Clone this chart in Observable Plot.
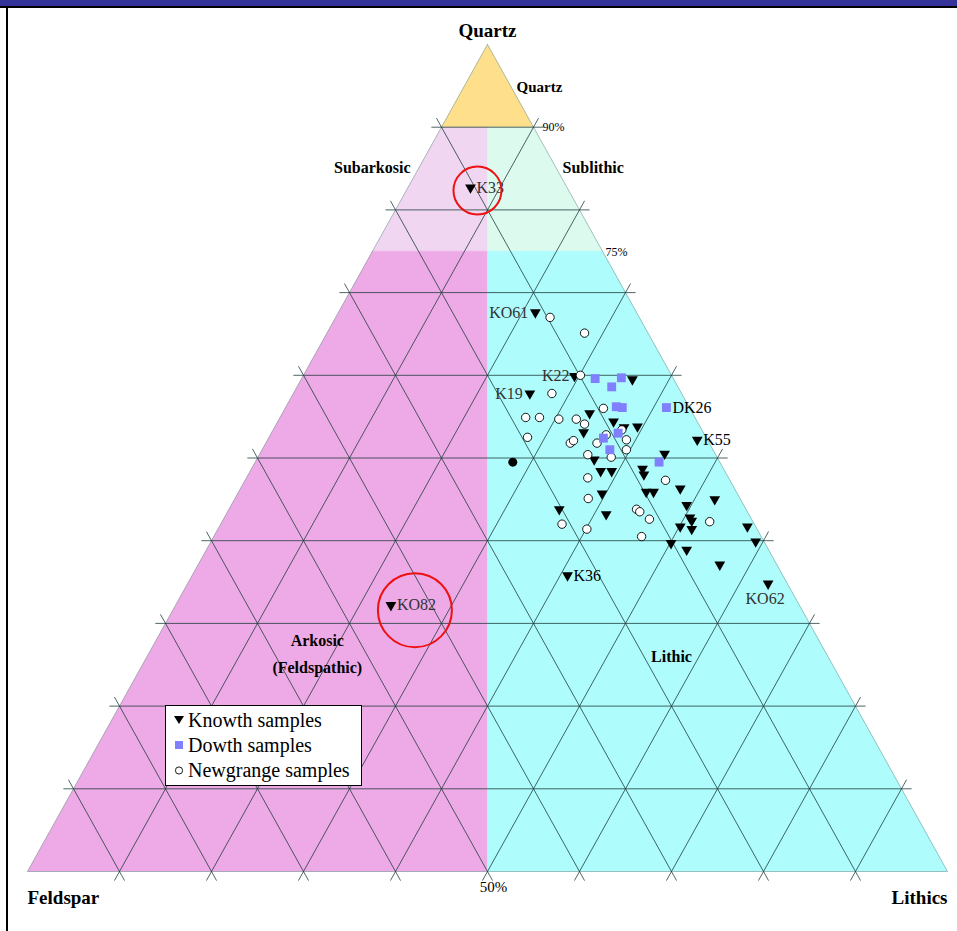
<!DOCTYPE html>
<html><head><meta charset="utf-8">
<script src="https://cdn.jsdelivr.net/npm/d3@7"></script>
<script src="https://cdn.jsdelivr.net/npm/@observablehq/plot@0.6"></script>
<style>
html,body{margin:0;padding:0;background:#fff;}
#wrap{position:relative;width:957px;height:931px;overflow:hidden;font-family:"Liberation Serif","Times New Roman",serif;}
#chart{position:absolute;left:0;top:0;}
.topband{position:absolute;left:0;top:0;width:957px;height:6px;background:#333399;}
.topline{position:absolute;left:0;top:6px;width:957px;height:2px;background:#000;}
.leftline{position:absolute;left:6px;top:6px;width:2px;height:925px;background:#000;}
#legend{position:absolute;left:165px;top:705px;width:195px;height:79px;border:1px solid #000;background:#fff;}
.row{position:absolute;left:7px;height:24px;display:flex;align-items:center;font-family:"Liberation Serif","Times New Roman",serif;font-size:20px;color:#000;white-space:nowrap;}
.row svg{margin-right:3px;}
</style></head><body>
<div id="wrap"><div id="chart"></div>
<div class="topband"></div><div class="topline"></div><div class="leftline"></div>
<div id="legend"></div></div>
<script>
// ---- data: [name, Quartz %, Feldspar %, Lithics %] ----
const knowth = [
  ["K33",82.7,10.5,6.8], ["KO82",32.2,44.4,23.4], ["KO61",67.6,11.0,21.4], ["K22",59.9,10.6,29.5],
  ["",59.5,4.5,36.0], ["K19",57.8,16.5,25.7], ["",55.4,11.2,33.4], ["",54.4,9.1,36.5],
  ["",53.8,6.8,39.4], ["",53.7,8.3,38.0], ["",53.1,13.0,33.9], ["K55",52.2,1.1,46.7],
  ["",49.8,13.5,36.7], ["",50.5,5.5,44.0], ["",48.4,13.5,38.1], ["",48.4,12.3,39.3],
  ["",48.7,8.8,42.5], ["",48.0,9.0,43.0], ["",46.3,5.9,47.8], ["",45.9,9.8,44.3],
  ["",45.9,9.0,45.1], ["",45.7,14.7,39.6], ["",44.3,6.2,49.5], ["",45.0,2.8,52.2],
  ["",42.8,6.6,50.6], ["",42.4,6.6,51.0], ["",43.8,20.3,35.9], ["",43.2,15.5,41.3],
  ["",41.7,8.2,50.1], ["",41.4,7.1,51.5], ["",41.7,0.9,57.4], ["",39.7,10.2,50.1],
  ["",39.9,0.9,59.2], ["",38.9,8.9,52.2], ["",37.1,6.2,56.7], ["K36",35.8,23.4,40.8],
  ["KO62",34.8,2.1,63.1]
];
const dowth = [
  ["DK26",56.1,2.5,41.4], ["",59.6,8.5,31.9], ["",59.7,5.6,34.7], ["",58.6,7.2,34.2],
  ["",56.2,7.9,35.9], ["",56.1,7.3,36.6], ["",53.0,9.3,37.7], ["",52.4,11.2,36.4],
  ["",51.0,11.2,37.8], ["",49.5,6.6,43.9]
];
const newgrange = [
  ["",67.0,9.7,23.3], ["",65.1,6.9,28.0], ["",60.0,9.9,30.1], ["",57.8,14.1,28.1],
  ["",56.0,9.4,34.6], ["",54.9,18.4,26.7], ["",54.9,16.9,28.2], ["",54.7,14.9,30.4],
  ["",54.7,13.0,32.3], ["",54.1,12.4,33.5], ["",53.4,8.7,37.9], ["",52.2,8.8,39.0],
  ["",52.8,10.7,36.5], ["",52.5,19.4,28.1], ["",51.8,15.1,33.1], ["",52.1,14.6,33.3],
  ["",51.8,12.2,36.0], ["",51.0,9.4,39.6], ["",50.4,13.9,35.7], ["",50.1,11.5,38.4],
  ["",47.6,15.3,37.1], ["",47.3,7.0,45.7], ["",45.1,16.5,38.4], ["",43.8,11.9,44.3],
  ["",43.5,11.7,44.8], ["",42.6,11.1,46.3], ["",42.3,4.7,53.0], ["",42.0,20.9,37.1],
  ["",41.4,18.5,40.1], ["",40.5,13.0,46.5]
];
const otherSamples = [["",49.5,22.5,28.0]];
const highlighted = ["K33","KO82"];              // samples circled in red
const classLimits = {quartzose: 90, sub: 75};   // Quartz % class boundaries
const gridSteps = [10,20,30,40,50,60,70,80,90];
const legendLabels = ["Knowth samples","Dowth samples","Newgrange samples"];

// ---- styles ----
const C = {quartz:"#fee08c", subark:"#f0d6f0", sublith:"#dcfaee", ark:"#eeaae6", lith:"#aefcfc", dowth:"#8080ff"};
const FONT = "Liberation Serif, Times New Roman, serif";

// ternary -> cartesian (unit space)
function tern(q,f,l){ const s=q+f+l; return {X: l/s + (q/s)/2, Y: q/s}; }
const pts = arr => arr.map(([name,q,f,l]) => ({name, ...tern(q,f,l)}));

const qa = classLimits.quartzose, qs = classLimits.sub;
const poly = v => { const p = v.map(([q,f,l]) => tern(q,f,l)); p.push(p[0]); return p; };
const regions = [
  [C.quartz, poly([[100,0,0],[qa,100-qa,0],[qa,0,100-qa]])],
  [C.subark, poly([[qa,100-qa,0],[qa,(100-qa)/2,(100-qa)/2],[qs,(100-qs)/2,(100-qs)/2],[qs,100-qs,0]])],
  [C.sublith, poly([[qa,(100-qa)/2,(100-qa)/2],[qa,0,100-qa],[qs,0,100-qs],[qs,(100-qs)/2,(100-qs)/2]])],
  [C.ark, poly([[qs,100-qs,0],[qs,(100-qs)/2,(100-qs)/2],[0,50,50],[0,100,0]])],
  [C.lith, poly([[qs,(100-qs)/2,(100-qs)/2],[qs,0,100-qs],[0,0,100],[0,50,50]])]
];

// grid segments with small tick extensions outside the triangle
const e = 1.1;
const grid = [];
for (const k of gridSteps) {
  const segs = [
    [tern(k,100-k+e,-e), tern(k,-e,100-k+e)],
    [tern(100-k+e,k,-e), tern(-e,k,100-k+e)],
    [tern(100-k+e,-e,k), tern(-e,100-k+e,k)]
  ];
  for (const [a,b] of segs) grid.push({x1:a.X,y1:a.Y,x2:b.X,y2:b.Y});
}
const outline = poly([[100,0,0],[0,100,0],[0,0,100]]);

const K = pts(knowth), D = pts(dowth), N = pts(newgrange), O = pts(otherSamples);

const labelPlace = {
  K33:{anchor:"start",dx:6,dy:0,fill:"#333"}, KO82:{anchor:"start",dx:6,dy:0,fill:"#333"},
  KO61:{anchor:"end",dx:-7,dy:0,fill:"#333"}, K22:{anchor:"end",dx:-5,dy:0,fill:"#333"},
  K19:{anchor:"end",dx:-7,dy:0,fill:"#333"}, K55:{anchor:"start",dx:6,dy:0,fill:"#000"},
  K36:{anchor:"start",dx:6,dy:0,fill:"#000"}, KO62:{anchor:"middle",dx:-3,dy:15,fill:"#333"},
  DK26:{anchor:"start",dx:6,dy:0,fill:"#000"}
};
const labelMarks = [...K, ...D].filter(d => d.name).map(d => {
  const p = labelPlace[d.name];
  return Plot.text([d], {x:"X", y:"Y", text:"name", textAnchor:p.anchor, dx:p.dx, dy:p.dy,
    fill:p.fill, fontSize:16, fontFamily:FONT});
});
const ringPlace = {K33:{dx:7, dy:3, r:24}, KO82:{dx:24, dy:5, r:37}};
const ringMarks = K.filter(d => highlighted.includes(d.name)).map(d => {
  const p = ringPlace[d.name];
  return Plot.dot([d], {x:"X", y:"Y", r:p.r, dx:p.dx, dy:p.dy, fill:"none", stroke:"#ee1111", strokeWidth:2});
});

const txt = (pos, text, o) => Plot.text([pos], {x:"X", y:"Y", text:() => text, fontFamily:FONT, fill:"#000", ...o});

const chart = Plot.plot({
  width: 957, height: 931,
  marginLeft: 27, marginRight: 10, marginTop: 44, marginBottom: 60,
  x: {domain:[0,1], axis:null},
  y: {domain:[0,1], axis:null},
  style: {background:"transparent", fontFamily: FONT},
  marks: [
    ...regions.map(([col, p]) => Plot.line(p, {x:"X", y:"Y", fill:col, stroke:col, strokeWidth:0.6, curve:"linear"})),
    Plot.line(outline, {x:"X", y:"Y", stroke:"#7a9a9a", strokeWidth:1, strokeOpacity:0.6}),
    Plot.link(grid, {x1:"x1", y1:"y1", x2:"x2", y2:"y2", stroke:"#173535", strokeOpacity:0.8, strokeWidth:0.95}),
    Plot.dot(K, {x:"X", y:"Y", symbol:"triangle", rotate:180, r:4, fill:"#000", stroke:"none"}),
    Plot.dot(O, {x:"X", y:"Y", symbol:"circle", r:4.5, fill:"#000", stroke:"none"}),
    Plot.dot(N, {x:"X", y:"Y", symbol:"circle", r:4.2, fill:"#fff", stroke:"#000", strokeWidth:0.9}),
    Plot.dot(D, {x:"X", y:"Y", symbol:"square", r:5, fill:C.dowth, stroke:"none"}),
    ...labelMarks,
    ...ringMarks,
    txt(tern(100,0,0), "Quartz", {dy:-14, fontSize:19, fontWeight:"bold"}),
    txt(tern(0,100,0), "Feldspar", {dy:26, textAnchor:"start", fontSize:19, fontWeight:"bold"}),
    txt(tern(0,0,100), "Lithics", {dy:26, textAnchor:"end", fontSize:19, fontWeight:"bold"}),
    txt(tern(0,50,50), "50%", {dy:16, dx:6, fontSize:15}),
    txt(tern(95,0,5), "Quartz", {dx:6, dy:1, textAnchor:"start", fontSize:15, fontWeight:"bold"}),
    txt(tern(qa,0,100-qa), "90%", {dx:9, textAnchor:"start", fontSize:12}),
    txt(tern(qs,0,100-qs), "75%", {dx:3, dy:1, textAnchor:"start", fontSize:12}),
    txt(tern(85,15,0), "Subarkosic", {dx:-8, dy:-1, textAnchor:"end", fontSize:16, fontWeight:"bold"}),
    txt(tern(85,0,15), "Sublithic", {dx:6, dy:-1, textAnchor:"start", fontSize:16, fontWeight:"bold"}),
    txt(tern(26,55.5,18.5), "Arkosic\n(Feldspathic)", {dy:-6, fontSize:16, fontWeight:"bold", lineHeight:1.7}),
    txt(tern(26,17,57), "Lithic", {fontSize:16, fontWeight:"bold"})
  ]
});
document.getElementById("chart").appendChild(chart);

// legend
const icons = [
  '<svg width="12" height="12"><path d="M1,2 L11,2 L6,10 Z" fill="#000"/></svg>',
  '<svg width="12" height="12"><rect x="2" y="2" width="8" height="8" fill="' + C.dowth + '"/></svg>',
  '<svg width="12" height="12"><circle cx="6" cy="6.5" r="3.6" fill="#fff" stroke="#000" stroke-width="0.9"/></svg>'
];
const lg = document.getElementById("legend");
legendLabels.forEach((t,i) => {
  const r = document.createElement("div");
  r.className = "row";
  r.style.top = (2 + i*25) + "px";
  r.innerHTML = icons[i] + "<span>" + t + "</span>";
  lg.appendChild(r);
});
</script>
</body></html>
